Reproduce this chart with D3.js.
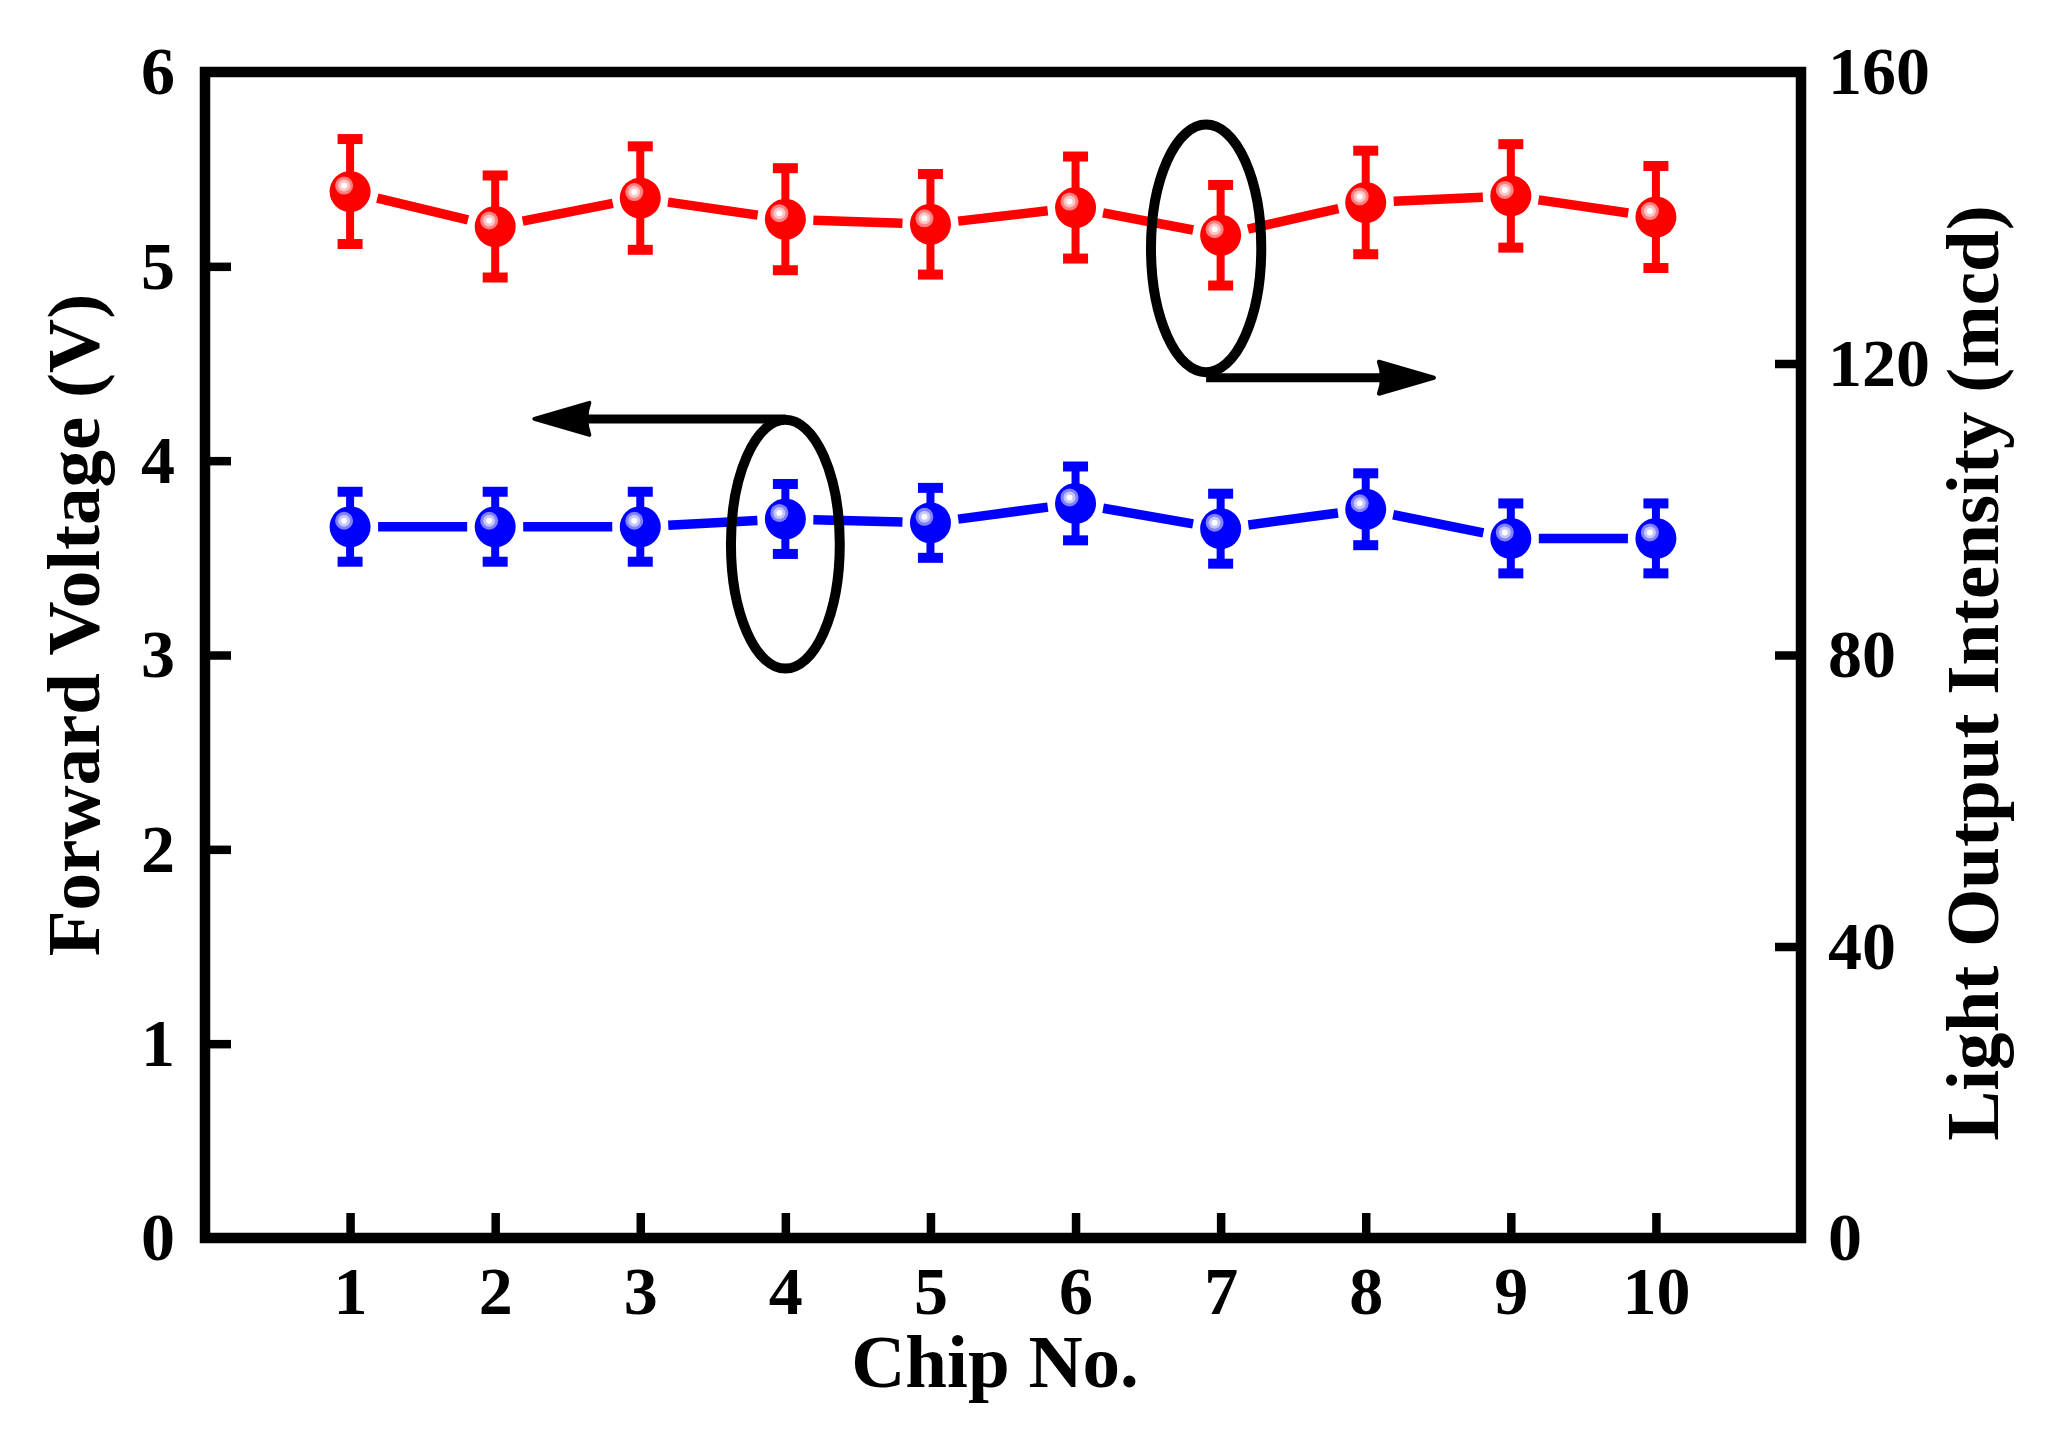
<!DOCTYPE html>
<html>
<head>
<meta charset="utf-8">
<script src="https://cdn.jsdelivr.net/npm/d3@7"></script>
<style>
  body { margin: 0; background: #fff; }
  svg { display: block; }
</style>
</head>
<body>
<script>
// Chip numbers and measured values
const chips = [1, 2, 3, 4, 5, 6, 7, 8, 9, 10];
const voltage = [3.66, 3.66, 3.66, 3.70, 3.68, 3.78, 3.65, 3.75, 3.60, 3.60];
const voltageErr = [0.18, 0.18, 0.18, 0.18, 0.18, 0.19, 0.18, 0.185, 0.18, 0.18];
const intensity = [143.6, 138.8, 142.7, 139.8, 139.1, 141.4, 137.6, 142.1, 143.0, 140.1];
const intensityErr = [7.2, 7.0, 7.1, 7.0, 6.9, 7.0, 6.9, 7.1, 7.1, 7.0];

// Axis ticks
const xTicks = [1, 2, 3, 4, 5, 6, 7, 8, 9, 10];
const leftTicks = [0, 1, 2, 3, 4, 5, 6];
const rightTicks = [0, 40, 80, 120, 160];

// Annotation ellipses (data units) and arrows pointing at each axis
const ovalVoltage = { x: 4.0, y: 3.57, rx: 0.375, ry: 0.64 };
const ovalIntensity = { x: 6.9, y: 135.8, rx: 0.38, ry: 17 };
const arrowLeft = { from: 4.0, to: 2.27, y: 4.215 };
const arrowRight = { from: 6.9, to: 8.47, y: 118.05 };

const width = 2055, height = 1441;
const margin = { top: 72, right: 254, bottom: 203, left: 205 };
const font = "'Liberation Serif', 'Times New Roman', serif";

const svg = d3.select("body").append("svg")
    .attr("width", width)
    .attr("height", height)
    .style("font-family", font)
    .style("font-weight", "bold");

const x = d3.scaleLinear().domain([0, 11]).range([margin.left, width - margin.right]);
const yV = d3.scaleLinear().domain([0, 6]).range([height - margin.bottom, margin.top]);
const yI = d3.scaleLinear().domain([0, 160]).range([height - margin.bottom, margin.top]);

// Axes (ticks point inward)
const styleAxis = g => {
    g.select(".domain").remove();
    g.selectAll(".tick line").attr("stroke", "#000").attr("stroke-width", 8.5);
    g.selectAll(".tick text").attr("fill", "#000")
        .style("font-size", "68px").style("font-family", font).style("font-weight", "bold");
};

svg.append("g")
    .attr("transform", `translate(0,${height - margin.bottom})`)
    .call(d3.axisBottom(x).tickValues(xTicks).tickFormat(d3.format("d")).tickSize(-25).tickPadding(28))
    .call(styleAxis);

svg.append("g")
    .attr("transform", `translate(${margin.left},0)`)
    .call(d3.axisLeft(yV).tickValues(leftTicks).tickFormat(d3.format("d")).tickSize(-26).tickPadding(30))
    .call(styleAxis);

svg.append("g")
    .attr("transform", `translate(${width - margin.right},0)`)
    .call(d3.axisRight(yI).tickValues(rightTicks).tickFormat(d3.format("d")).tickSize(-26).tickPadding(27))
    .call(styleAxis);

// Frame
svg.append("rect")
    .attr("x", margin.left)
    .attr("y", margin.top)
    .attr("width", width - margin.left - margin.right)
    .attr("height", height - margin.top - margin.bottom)
    .attr("fill", "none")
    .attr("stroke", "#000")
    .attr("stroke-width", 10.5);

// Axis titles
svg.append("text")
    .attr("x", 995).attr("y", 1387)
    .attr("text-anchor", "middle")
    .style("font-size", "75px")
    .text("Chip No.");

svg.append("text")
    .attr("transform", "translate(99,625) rotate(-90)")
    .attr("text-anchor", "middle")
    .style("font-size", "75px")
    .text("Forward Voltage (V)");

svg.append("text")
    .attr("transform", "translate(1998,673) rotate(-90)")
    .attr("text-anchor", "middle")
    .style("font-size", "75px")
    .text("Light Output Intensity (mcd)");

// Draw one series: gapped line, error bars, ball markers
function drawSeries(values, errs, y, color, light, lighter) {
    const pts = chips.map((c, i) => ({ x: x(c), y: y(values[i]), lo: y(values[i] - errs[i]), hi: y(values[i] + errs[i]) }));
    const gap = 28;
    const g = svg.append("g");

    g.selectAll("line.seg")
        .data(d3.pairs(pts))
        .join("line")
        .attr("class", "seg")
        .each(function ([a, b]) {
            const dx = b.x - a.x, dy = b.y - a.y, len = Math.hypot(dx, dy);
            const ux = dx / len, uy = dy / len;
            d3.select(this)
                .attr("x1", a.x + ux * gap).attr("y1", a.y + uy * gap)
                .attr("x2", b.x - ux * gap).attr("y2", b.y - uy * gap);
        })
        .attr("stroke", color)
        .attr("stroke-width", 9.5);

    const eb = g.selectAll("g.err").data(pts).join("g").attr("class", "err");
    eb.append("line")
        .attr("x1", d => d.x).attr("x2", d => d.x)
        .attr("y1", d => d.lo).attr("y2", d => d.hi)
        .attr("stroke", color).attr("stroke-width", 8);
    eb.selectAll("line.cap")
        .data(d => [{ x: d.x, y: d.lo }, { x: d.x, y: d.hi }])
        .join("line")
        .attr("class", "cap")
        .attr("x1", d => d.x - 12.5).attr("x2", d => d.x + 12.5)
        .attr("y1", d => d.y).attr("y2", d => d.y)
        .attr("stroke", color).attr("stroke-width", 10);

    const m = g.selectAll("g.mk").data(pts).join("g").attr("class", "mk")
        .attr("transform", d => `translate(${d.x},${d.y})`);
    m.append("circle").attr("r", 20.5).attr("fill", color);
    m.append("circle").attr("cx", -6).attr("cy", -6).attr("r", 9).attr("fill", light);
    m.append("circle").attr("cx", -6).attr("cy", -6).attr("r", 6).attr("fill", lighter);
    m.append("circle").attr("cx", -6).attr("cy", -6).attr("r", 3).attr("fill", "#fff");
}

drawSeries(voltage, voltageErr, yV, "#0000ff", "#8080ff", "#c4c4ff");
drawSeries(intensity, intensityErr, yI, "#ff0000", "#ff8080", "#ffc4c4");

// Annotations
function drawOval(o, y) {
    svg.append("ellipse")
        .attr("cx", x(o.x)).attr("cy", y(o.y))
        .attr("rx", x(o.x + o.rx) - x(o.x))
        .attr("ry", y(o.y) - y(o.y + o.ry))
        .attr("fill", "none").attr("stroke", "#000").attr("stroke-width", 10);
}
function drawArrow(a, y) {
    const x0 = x(a.from), x1 = x(a.to), yy = y(a.y);
    const dir = Math.sign(x1 - x0);
    const head = 55, half = 16;
    svg.append("line")
        .attr("x1", x0).attr("y1", yy)
        .attr("x2", x1 - dir * (head - 4)).attr("y2", yy)
        .attr("stroke", "#000").attr("stroke-width", 9);
    svg.append("path")
        .attr("d", `M${x1},${yy} L${x1 - dir * head},${yy - half} Q${x1 - dir * (head - 6)},${yy} ${x1 - dir * head},${yy + half} Z`)
        .attr("fill", "#000").attr("stroke", "#000").attr("stroke-width", 4).attr("stroke-linejoin", "round");
}

drawOval(ovalVoltage, yV);
drawArrow(arrowLeft, yV);
drawOval(ovalIntensity, yI);
drawArrow(arrowRight, yI);
</script>
</body>
</html>
